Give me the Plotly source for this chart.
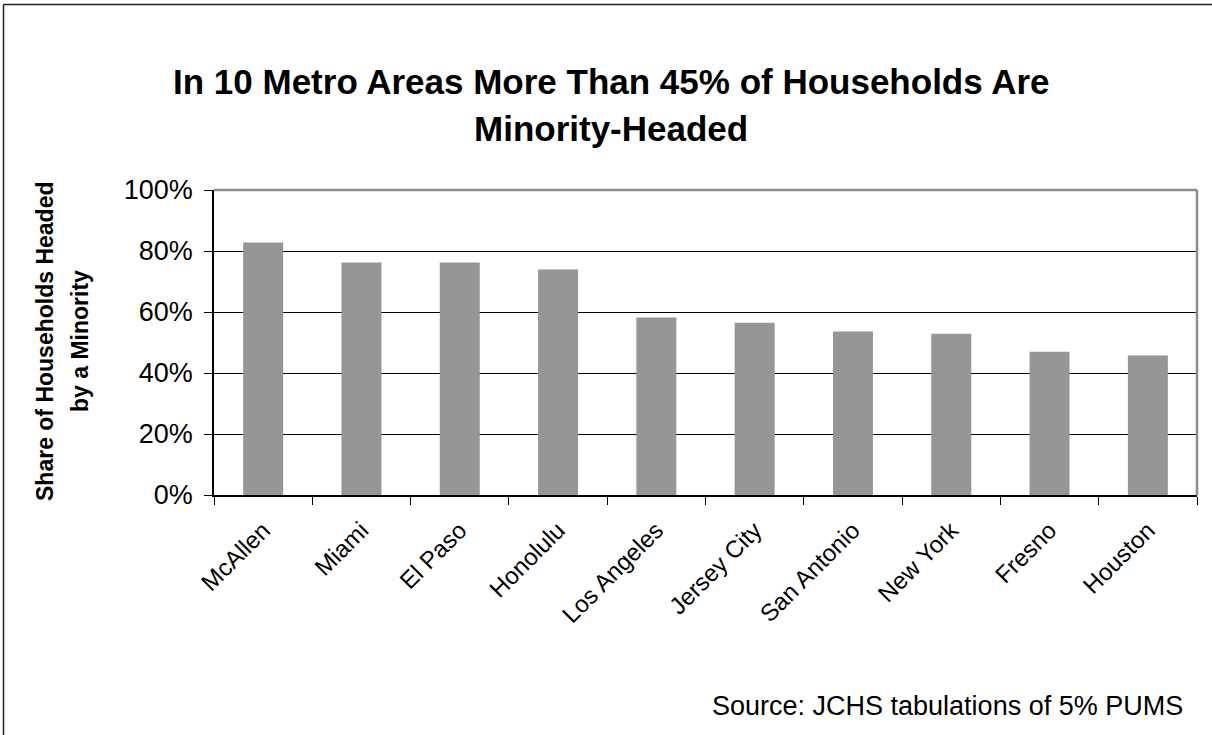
import plotly.graph_objects as go

# Metro areas and share of households headed by a minority (percent)
metros = ["McAllen", "Miami", "El Paso", "Honolulu", "Los Angeles",
          "Jersey City", "San Antonio", "New York", "Fresno", "Houston"]
minority_share = [82.8, 76.2, 76.2, 73.9, 58.2, 56.5, 53.6, 52.9, 47.0, 45.7]
y_ticks = [0, 20, 40, 60, 80, 100]

W, H = 1212, 735
L, R, T, B = 214, 15, 190, 240
PW, PH = W - L - R, H - T - B

FONT = "Arial, Liberation Sans, sans-serif"


def px_x(px):
    return (px - L) / PW


def px_y(py):
    return (H - B - py) / PH


fig = go.Figure()
fig.add_bar(x=metros, y=minority_share, marker_color="#969696",
            marker_line_width=0, hoverinfo="x+y")

fig.update_layout(
    width=W, height=H,
    margin=dict(l=L, r=R, t=T, b=B, pad=0),
    paper_bgcolor="white", plot_bgcolor="white",
    bargap=0.593, showlegend=False,
    font=dict(family=FONT, color="black"),
)

fig.update_yaxes(
    range=[0, 100], tickvals=y_ticks, ticktext=[f"{v}%" for v in y_ticks],
    showgrid=True, gridcolor="black", gridwidth=1, zeroline=False,
    showline=True, linecolor="black", linewidth=1.5,
    ticks="outside", ticklen=8, tickcolor="black", tickwidth=1,
    ticklabelstandoff=6,
    tickfont=dict(size=27, family=FONT), fixedrange=True,
)
fig.update_xaxes(
    tickangle=-45, tickson="boundaries", ticks="outside", ticklen=8,
    tickcolor="black", tickwidth=1, showgrid=False,
    showline=True, linecolor="black", linewidth=1.5,
    ticklabelstandoff=10,
    tickfont=dict(size=24, family=FONT), fixedrange=True,
)

# gray frame on top and right of the plot area
fig.add_shape(type="line", xref="paper", yref="paper", x0=0, x1=1, y0=1, y1=1,
              line=dict(color="#8c8c8c", width=2.5))
fig.add_shape(type="line", xref="paper", yref="paper", x0=1, x1=1, y0=0, y1=1,
              line=dict(color="#8c8c8c", width=2.5))

# outer chart border (left and top edges)
fig.add_shape(type="line", xref="paper", yref="paper",
              x0=px_x(3.5), x1=px_x(3.5), y0=px_y(H), y1=px_y(4.5),
              line=dict(color="#222222", width=1.5))
fig.add_shape(type="line", xref="paper", yref="paper",
              x0=px_x(3.5), x1=px_x(W), y0=px_y(4.5), y1=px_y(4.5),
              line=dict(color="#222222", width=1.5))

title_lines = ["In 10 Metro Areas More Than 45% of Households Are", "Minority-Headed"]
for text, cy in zip(title_lines, [82, 128]):
    fig.add_annotation(text=f"<b>{text}</b>", xref="paper", yref="paper",
                       x=px_x(611), y=px_y(cy), xanchor="center", yanchor="middle",
                       showarrow=False, font=dict(size=35, family=FONT, color="black"))

ytitle_lines = ["Share of Households Headed", "by a Minority"]
for text, cx in zip(ytitle_lines, [45, 80]):
    fig.add_annotation(text=f"<b>{text}</b>", xref="paper", yref="paper",
                       x=px_x(cx), y=px_y(341), xanchor="center", yanchor="middle",
                       textangle=-90, showarrow=False,
                       font=dict(size=23, family=FONT, color="black"))

fig.add_annotation(text="Source: JCHS tabulations of 5% PUMS", xref="paper", yref="paper",
                   x=px_x(1185), y=px_y(706), xanchor="right", yanchor="middle",
                   showarrow=False, font=dict(size=27, family=FONT, color="black"))

fig.write_html("out.html", config={"displayModeBar": False})
